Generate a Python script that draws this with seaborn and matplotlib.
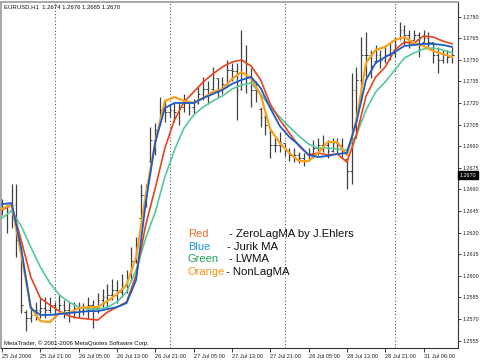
import numpy as np
import pandas as pd
import matplotlib
matplotlib.use("Agg")
import matplotlib.pyplot as plt
import matplotlib.colors as mcolors
import seaborn as sns

# ---------------- data ----------------
bar_idx = list(range(95))
high = [1.2653, 1.2650, 1.2664, 1.2664, 1.2620, 1.2576, 1.2578, 1.2582, 1.2585, 1.2585,
        1.2585, 1.2582, 1.2587, 1.2583, 1.2582, 1.2582, 1.2582, 1.2581, 1.2585, 1.2583,
        1.2588, 1.2591, 1.2594, 1.2598, 1.2597, 1.2601, 1.2604, 1.2620, 1.2627, 1.2664,
        1.2664, 1.2703, 1.2706, 1.2724, 1.2722, 1.2719, 1.2720, 1.2721, 1.2726, 1.2721,
        1.2723, 1.2732, 1.2738, 1.2735, 1.2745, 1.2737, 1.2738, 1.2750, 1.2748, 1.2748,
        1.2771, 1.2760, 1.2744, 1.2735, 1.2717, 1.2714, 1.2701, 1.2696, 1.2700, 1.2692,
        1.2689, 1.2689, 1.2686, 1.2685, 1.2689, 1.2694, 1.2696, 1.2698, 1.2694, 1.2696,
        1.2696, 1.2696, 1.2682, 1.2741, 1.2745, 1.2766, 1.2769, 1.2757, 1.2760, 1.2757,
        1.2760, 1.2762, 1.2766, 1.2776, 1.2774, 1.2771, 1.2771, 1.2769, 1.2771, 1.2769,
        1.2762, 1.2759, 1.2757, 1.2757, 1.2759]
low = [1.2642, 1.2630, 1.2633, 1.2613, 1.2574, 1.2562, 1.2568, 1.2569, 1.2571, 1.2571,
       1.2574, 1.2571, 1.2574, 1.2571, 1.2568, 1.2571, 1.2571, 1.2573, 1.2571, 1.2564,
       1.2574, 1.2578, 1.2578, 1.2583, 1.2581, 1.2585, 1.2588, 1.2597, 1.2609, 1.2639,
       1.2648, 1.2678, 1.2684, 1.2705, 1.2707, 1.2710, 1.2707, 1.2705, 1.2714, 1.2712,
       1.2713, 1.2719, 1.2722, 1.2719, 1.2729, 1.2724, 1.2726, 1.2731, 1.2735, 1.2708,
       1.2729, 1.2727, 1.2717, 1.2721, 1.2703, 1.2698, 1.2682, 1.2686, 1.2686, 1.2683,
       1.2680, 1.2679, 1.2678, 1.2676, 1.2680, 1.2682, 1.2684, 1.2686, 1.2682, 1.2686,
       1.2685, 1.2682, 1.2660, 1.2664, 1.2696, 1.2722, 1.2738, 1.2737, 1.2748, 1.2744,
       1.2748, 1.2750, 1.2752, 1.2764, 1.2760, 1.2758, 1.2764, 1.2752, 1.2762, 1.2759,
       1.2748, 1.2741, 1.2748, 1.2748, 1.2748]
open_ = [1.2650, 1.2648, 1.2646, 1.2649, 1.2618, 1.2575, 1.2571, 1.2573, 1.2576, 1.2578,
         1.2576, 1.2580, 1.2576, 1.2580, 1.2576, 1.2575, 1.2578, 1.2576, 1.2578, 1.2580,
         1.2578, 1.2583, 1.2585, 1.2587, 1.2590, 1.2589, 1.2594, 1.2597, 1.2610, 1.2640,
         1.2656, 1.2680, 1.2694, 1.2706, 1.2715, 1.2714, 1.2715, 1.2714, 1.2717, 1.2720,
         1.2717, 1.2720, 1.2726, 1.2730, 1.2730, 1.2737, 1.2730, 1.2733, 1.2743, 1.2742,
         1.2730, 1.2750, 1.2739, 1.2729, 1.2716, 1.2710, 1.2700, 1.2691, 1.2691, 1.2692,
         1.2687, 1.2684, 1.2684, 1.2682, 1.2680, 1.2685, 1.2689, 1.2691, 1.2691, 1.2687,
         1.2692, 1.2691, 1.2681, 1.2673, 1.2729, 1.2736, 1.2753, 1.2753, 1.2749, 1.2753,
         1.2750, 1.2753, 1.2755, 1.2765, 1.2771, 1.2767, 1.2764, 1.2767, 1.2762, 1.2765,
         1.2762, 1.2753, 1.2750, 1.2753, 1.2752]
close = [1.2648, 1.2646, 1.2649, 1.2625, 1.2580, 1.2571, 1.2573, 1.2576, 1.2578, 1.2576,
         1.2580, 1.2576, 1.2580, 1.2576, 1.2575, 1.2578, 1.2576, 1.2578, 1.2580, 1.2578,
         1.2583, 1.2585, 1.2587, 1.2590, 1.2589, 1.2594, 1.2597, 1.2610, 1.2621, 1.2656,
         1.2660, 1.2694, 1.2701, 1.2715, 1.2714, 1.2715, 1.2714, 1.2717, 1.2720, 1.2717,
         1.2720, 1.2726, 1.2730, 1.2726, 1.2737, 1.2730, 1.2733, 1.2743, 1.2742, 1.2729,
         1.2750, 1.2739, 1.2729, 1.2728, 1.2710, 1.2705, 1.2691, 1.2691, 1.2693, 1.2687,
         1.2684, 1.2684, 1.2682, 1.2680, 1.2685, 1.2689, 1.2691, 1.2691, 1.2687, 1.2692,
         1.2691, 1.2687, 1.2673, 1.2729, 1.2736, 1.2753, 1.2753, 1.2746, 1.2753, 1.2750,
         1.2753, 1.2755, 1.2760, 1.2771, 1.2767, 1.2764, 1.2767, 1.2760, 1.2765, 1.2762,
         1.2753, 1.2750, 1.2753, 1.2752, 1.2753]

ma_idx = list(range(0, 95, 2))
zerolag = [1.26457, 1.26492, 1.26248, 1.25992, 1.25846, 1.25797, 1.25755, 1.25721, 1.25707, 1.25700,
           1.25693, 1.25748, 1.25783, 1.25818, 1.26005, 1.26353, 1.26610, 1.26887, 1.27082, 1.27207,
           1.27276, 1.27346, 1.27401, 1.27450, 1.27484, 1.27498, 1.27457, 1.27360, 1.27193, 1.27082,
           1.26991, 1.26901, 1.26839, 1.26853, 1.26839, 1.26846, 1.26790, 1.26978, 1.27248, 1.27380,
           1.27450, 1.27568, 1.27623, 1.27616, 1.27665, 1.27658, 1.27630, 1.27610]
jurik = [1.26498, 1.26505, 1.26193, 1.25776, 1.25728, 1.25728, 1.25735, 1.25742, 1.25748, 1.25755,
         1.25755, 1.25769, 1.25783, 1.25811, 1.25971, 1.26505, 1.26929, 1.27165, 1.27200, 1.27200,
         1.27200, 1.27234, 1.27262, 1.27290, 1.27332, 1.27360, 1.27380, 1.27304, 1.27165, 1.27040,
         1.26964, 1.26908, 1.26839, 1.26825, 1.26832, 1.26846, 1.26853, 1.27068, 1.27360, 1.27478,
         1.27519, 1.27554, 1.27596, 1.27603, 1.27610, 1.27610, 1.27603, 1.27589]
lwma = [1.26401, 1.26450, 1.26346, 1.26200, 1.26061, 1.25950, 1.25867, 1.25818, 1.25783, 1.25769,
        1.25769, 1.25783, 1.25818, 1.25887, 1.26040, 1.26262, 1.26443, 1.26686, 1.26873, 1.27026,
        1.27116, 1.27172, 1.27214, 1.27248, 1.27297, 1.27325, 1.27339, 1.27262, 1.27172, 1.27103,
        1.27033, 1.26971, 1.26915, 1.26887, 1.26887, 1.26880, 1.26873, 1.26978, 1.27151, 1.27276,
        1.27346, 1.27429, 1.27512, 1.27547, 1.27575, 1.27582, 1.27568, 1.27547]
nonlag = [1.26464, 1.26498, 1.26151, 1.25783, 1.25686, 1.25679, 1.25742, 1.25742, 1.25776, 1.25783,
          1.25783, 1.25825, 1.25873, 1.25936, 1.26130, 1.26554, 1.26929, 1.27214, 1.27241, 1.27214,
          1.27200, 1.27234, 1.27276, 1.27297, 1.27366, 1.27415, 1.27373, 1.27255, 1.27019, 1.26922,
          1.26853, 1.26797, 1.26797, 1.26853, 1.26929, 1.26929, 1.26839, 1.27082, 1.27478, 1.27568,
          1.27589, 1.27637, 1.27658, 1.27616, 1.27596, 1.27561, 1.27540, 1.27519]

y_ticks = [1.2555, 1.2570, 1.2585, 1.2600, 1.2615, 1.2630, 1.2645, 1.2660,
           1.2675, 1.2690, 1.2705, 1.2720, 1.2735, 1.2750, 1.2765, 1.2780]
x_tick_bars = [0, 8, 16, 24, 32, 40, 48, 56, 64, 72, 80, 88]
x_tick_labels = ["25 Jul 2006", "25 Jul 21:00", "26 Jul 05:00", "26 Jul 13:00",
                 "26 Jul 21:00", "27 Jul 05:00", "27 Jul 13:00", "27 Jul 21:00",
                 "28 Jul 05:00", "28 Jul 13:00", "28 Jul 21:00", "31 Jul 06:00"]
day_separators = [11, 35, 59, 82]
current_price = 1.2670
header = "EURUSD,H1  1.2674 1.2676 1.2665 1.2670"
copyright_text = "MetaTrader, \u00a9 2001-2006 MetaQuotes Software Corp."
legend_names = ["Red", "Blue", "Green", "Orange"]
legend_desc = ["- ZeroLagMA by J.Ehlers", "- Jurik MA", "- LWMA", "- NonLagMA"]

# ---------------- style ----------------
sns.set_style("white")
plt.rcParams['font.family'] = ['Liberation Sans', 'DejaVu Sans']

W, H = 480, 360
fig = plt.figure(figsize=(W / 100, H / 100), dpi=100)
ax = fig.add_axes([1 / W, (H - 348) / H, 457 / W, 346 / H])

# bars (HLC with open tick)
bar_col = '#404040'
ax.vlines(bar_idx, low, high, color=bar_col, lw=0.9, zorder=2)
ax.hlines(open_, np.array(bar_idx) - 0.35, bar_idx, color=bar_col, lw=0.7, zorder=2)
ax.hlines(close, bar_idx, np.array(bar_idx) + 0.35, color=bar_col, lw=0.7, zorder=2)

# moving averages via seaborn
df = pd.DataFrame({
    'bar': ma_idx * 4,
    'price': lwma + zerolag + nonlag + jurik,
    'ma': ['LWMA'] * len(ma_idx) + ['ZeroLagMA'] * len(ma_idx) +
          ['NonLagMA'] * len(ma_idx) + ['Jurik MA'] * len(ma_idx),
})
palette = {'LWMA': '#55c99b', 'ZeroLagMA': '#e8441c',
           'NonLagMA': '#f7a21b', 'Jurik MA': '#1c5cc8'}
widths = {'LWMA': 1.2, 'ZeroLagMA': 1.2, 'NonLagMA': 1.6, 'Jurik MA': 1.3}
sns.lineplot(data=df, x='bar', y='price', hue='ma', palette=palette,
             hue_order=['LWMA', 'ZeroLagMA', 'NonLagMA', 'Jurik MA'],
             legend=False, linewidth=1.3, sort=False, ax=ax, zorder=3)
for ln in ax.get_lines():
    c = mcolors.to_hex(ln.get_color())
    for k, v in palette.items():
        if c.lower() == v.lower():
            ln.set_linewidth(widths[k])

# day separators
for s in day_separators:
    ax.axvline(s, color='#4a5a5a', lw=0.8, linestyle=(0, (1, 2)), zorder=1)

ax.set_xlim(-0.21, 95.2)
ax.set_ylim(1.25499, 1.27901)
ax.set_xlabel('')
ax.set_ylabel('')

# axes
ax.yaxis.tick_right()
ax.set_yticks(y_ticks)
ax.set_yticklabels([f"{v:.4f}" for v in y_ticks], fontsize=3.9)
ax.tick_params(axis='y', right=True, length=2.5, width=0.6, pad=0.8, colors='#222222')
ax.set_xticks(x_tick_bars)
ax.set_xticklabels(x_tick_labels, fontsize=4.1, ha='left')
ax.tick_params(axis='x', bottom=True, length=3, width=0.6, pad=1, colors='#222222')
for sp in ['top', 'left']:
    ax.spines[sp].set_color('#9a9a9a')
    ax.spines[sp].set_linewidth(1.2)
for sp in ['right', 'bottom']:
    ax.spines[sp].set_color('#333333')
    ax.spines[sp].set_linewidth(0.8)

# header & copyright
ax.text(0.006, 1 - 5 / 346, header, transform=ax.transAxes, fontsize=4.3,
        va='center', ha='left', color='#111111')
ax.text(0.006, 5 / 346, copyright_text, transform=ax.transAxes, fontsize=4.3,
        va='center', ha='left', color='#111111')

# current price box
ax.annotate(f"{current_price:.4f}", xy=(1.004, current_price),
            xycoords=('axes fraction', 'data'), fontsize=3.9, color='white',
            va='center', ha='left',
            bbox=dict(boxstyle='square,pad=0.25', fc='black', ec='black'),
            annotation_clip=False)

# legend text
legend_colors = ['#f26a2a', '#1898e0', '#1fa05a', '#f7941d']
legend_y = [234, 247, 259, 272]
name_x = [188, 188, 188, 188]
dash_x = [229, 227, 229, 226]
for name, desc, col, yy, nx, dx in zip(legend_names, legend_desc, legend_colors,
                                       legend_y, name_x, dash_x):
    fig.text(nx / W, 1 - yy / H, name, color=col, fontsize=8.0, va='center', ha='left')
    fig.text(dx / W, 1 - yy / H, desc, color='#111111', fontsize=8.2, va='center', ha='left')

fig.savefig('out.png', dpi=100, facecolor='white')
